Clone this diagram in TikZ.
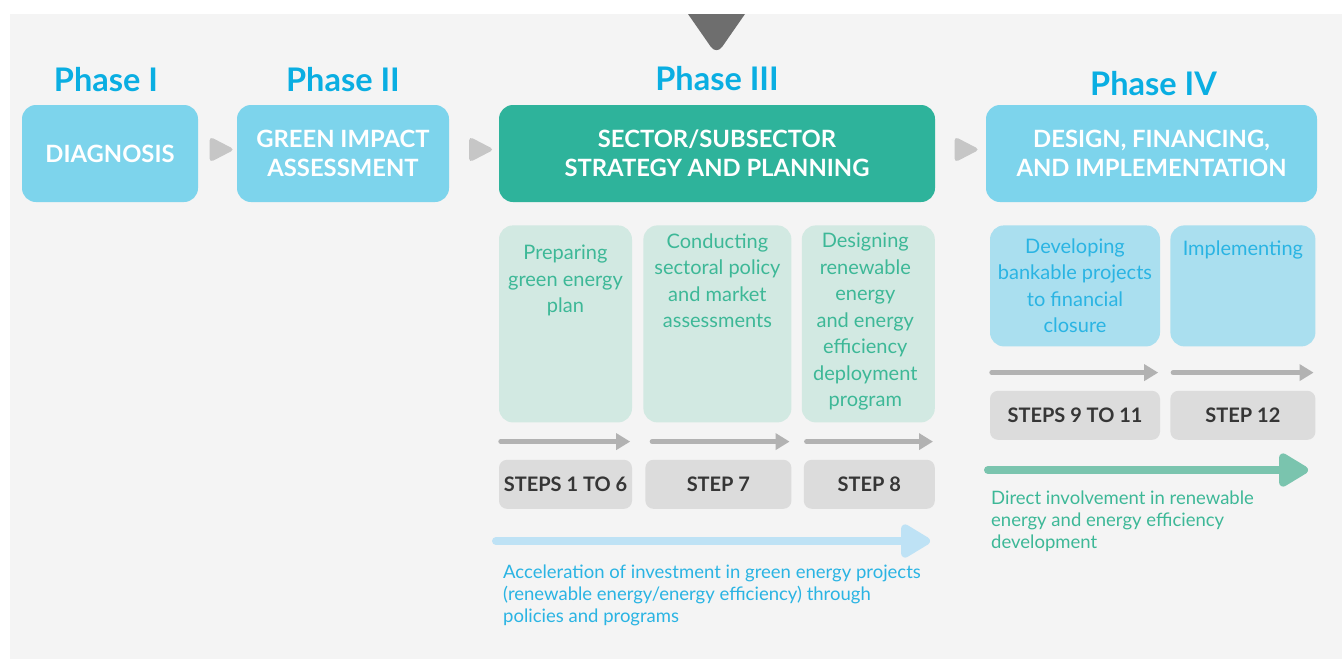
\documentclass[tikz,border=0pt]{standalone}
\usepackage{fontspec}
\setmainfont{Lato}
\usetikzlibrary{positioning, shapes.geometric, arrows.meta}
\definecolor{bggray}{HTML}{F4F4F4}
\definecolor{boxblue}{HTML}{7DD4EC}
\definecolor{titleblue}{HTML}{0AAEE2}
\definecolor{sectorgreen}{HTML}{2EB39B}
\definecolor{linkgray}{HTML}{C6C6C6}
\definecolor{darktri}{HTML}{6E6E6E}
\definecolor{taskgreen}{HTML}{D2E9E2}
\definecolor{taskgreentext}{HTML}{3DB897}
\definecolor{taskblue}{HTML}{AADFEF}
\definecolor{taskbluetext}{HTML}{2AB4E3}
\definecolor{stepgray}{HTML}{DCDCDC}
\definecolor{steptext}{HTML}{363636}
\definecolor{linegray}{HTML}{B2B2B2}
\definecolor{biggreen}{HTML}{7AC4AE}
\definecolor{bigblue}{HTML}{BEE2F5}

\begin{document}
\begin{tikzpicture}[x=1pt,y=-1pt,
	phasebox/.style={rounded corners=14pt, fill=boxblue, text=white, align=center, inner sep=0pt, minimum height=97pt, font=\bfseries\fontsize{23.8}{29}\selectfont},
	phaselabel/.style={text=titleblue, inner sep=0pt, font=\bfseries\fontsize{32.5}{38}\selectfont},
	taskbox/.style={rounded corners=14pt, inner sep=0pt},
	tasktext/.style={align=center, inner sep=0pt, font=\fontsize{20}{26.5}\selectfont},
	stepbox/.style={rounded corners=8pt, fill=stepgray, text=steptext, inner sep=0pt, minimum height=49pt, font=\bfseries\fontsize{20}{24}\selectfont},
	linkarrow/.style={isosceles triangle, isosceles triangle stretches, fill=linkgray, minimum width=26pt, minimum height=25pt, inner sep=0pt, rounded corners=4pt},
	steparrow/.style={draw=linegray, line width=5pt, line cap=round, -{Triangle[length=14pt,width=16pt]}},
	bigarrow/.style={line width=8pt, line cap=round, -{Triangle[length=33pt,width=37pt,round]}},
	note/.style={align=left, inner sep=0pt, anchor=north west, font=\fontsize{18.5}{21.7}\selectfont}
	]
	\fill[bggray] (10,14) rectangle (1342,659);
	\useasboundingbox (0,0) rectangle (1342,659);
	\fill[darktri] (688,14) [rounded corners=10pt] -- (716.5,55) [sharp corners] -- (745,14) -- cycle;

	\node[phasebox, minimum width=176pt] (diag) at (110,153.5) {DIAGNOSIS};
	\node[phasebox, minimum width=212pt] (gia) at (343,153.5) {GREEN IMPACT\\ASSESSMENT};
	\node[phasebox, minimum width=436pt, fill=sectorgreen] (sector) at (717,153.5) {SECTOR/SUBSECTOR\\STRATEGY AND PLANNING};
	\node[phasebox, minimum width=331pt] (design) at (1151.5,153.5) {DESIGN, FINANCING,\\AND IMPLEMENTATION};

	\node[phaselabel, above=13pt of diag, xshift=-4pt] (ph1) {Phase I};
	\node[phaselabel, above=13pt of gia] (ph2) {Phase II};
	\node[phaselabel, above=14pt of sector] (ph3) {Phase III};
	\node[phaselabel, above=9pt of design, xshift=2pt] (ph4) {Phase IV};

	\path (diag) -- node[linkarrow, yshift=4pt]{} (gia);
	\path (gia) -- node[linkarrow, yshift=4pt, xshift=3pt]{} (sector);
	\path (sector) -- node[linkarrow, yshift=4pt, xshift=2pt]{} (design);

	\node[taskbox, fill=taskgreen, minimum width=133pt, minimum height=197pt, below=23pt of sector.south west, anchor=north west] (prep) {};
	\node[taskbox, fill=taskgreen, minimum width=148pt, minimum height=197pt, right=11pt of prep] (cond) {};
	\node[taskbox, fill=taskgreen, minimum width=133pt, minimum height=197pt, right=10pt of cond] (desg) {};
	\node[taskbox, fill=taskblue, minimum width=170pt, minimum height=121pt, below=23pt of design.south west, anchor=north west, xshift=4pt] (dev) {};
	\node[taskbox, fill=taskblue, minimum width=145pt, minimum height=121pt, right=10pt of dev] (impl) {};

	\node[tasktext, text=taskgreentext, below=20pt of prep.north] (preptext) {Preparing\\green energy\\plan};
	\node[tasktext, text=taskgreentext, below=8pt of cond.north] (condtext) {Conducting\\sectoral policy\\and market\\assessments};
	\node[tasktext, text=taskgreentext, below=8pt of desg.north, xshift=-3pt] (desgtext) {Designing\\renewable\\energy\\and energy\\efficiency\\deployment\\program};
	\node[tasktext, text=taskbluetext, below=13pt of dev.north] (devtext) {Developing\\bankable projects\\to financial\\closure};
	\node[tasktext, text=taskbluetext, below=15pt of impl.north] (impltext) {Implementing};

	\node[stepbox, minimum width=133pt, below=37pt of prep] (s16) {STEPS 1 TO 6};
	\node[stepbox, minimum width=146pt, below=37pt of cond, xshift=1pt] (s7) {STEP 7};
	\node[stepbox, minimum width=131pt, below=37pt of desg, xshift=1pt] (s8) {STEP 8};
	\node[stepbox, minimum width=170pt, below=44pt of dev] (s911) {STEPS 9 TO 11};
	\node[stepbox, minimum width=145pt, below=44pt of impl] (s12) {STEP 12};

	\foreach \t/\s in {prep/2,cond/9,desg/5}
		\draw[steparrow] ([xshift=\s pt,yshift=-19pt]\t.south west) -- ([xshift=-2pt,yshift=-19pt]\t.south east);
	\foreach \t/\s in {dev/2,impl/3}
		\draw[steparrow] ([xshift=\s pt,yshift=-26pt]\t.south west) -- ([xshift=-2pt,yshift=-26pt]\t.south east);

	\coordinate (dirstart) at (988,470);
	\coordinate (dirend) at (1308,470);
	\coordinate (accstart) at (496,541);
	\coordinate (accend) at (930,541);
	\draw[bigarrow, draw=biggreen] (dirstart) -- (dirend);
	\draw[bigarrow, draw=bigblue] (accstart) -- (accend);

	\node[note, text=taskgreentext] (dirnote) at (991,491) {Direct involvement in renewable\\energy and energy efficiency\\development};
	\node[note, text=taskbluetext] (accnote) at (503,565) {Acceleration of investment in green energy projects\\(renewable energy/energy efficiency) through\\policies and programs};
\end{tikzpicture}
\end{document}
